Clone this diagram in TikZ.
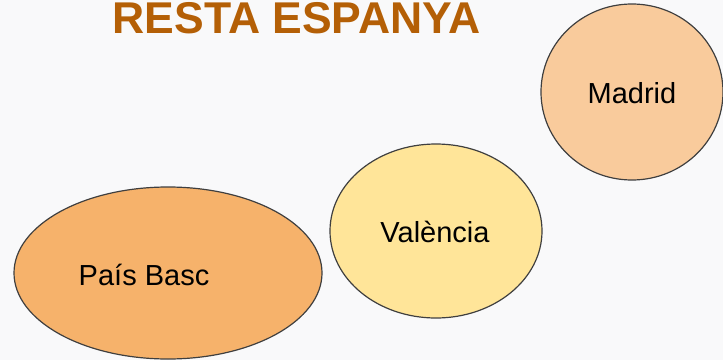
\documentclass[tikz,border=0pt]{standalone}
\usepackage{fontspec}
\setmainfont{Liberation Sans}
\usetikzlibrary{shapes.geometric}
\definecolor{bg}{HTML}{F9F9FA}
\definecolor{titlec}{HTML}{B45F06}
\definecolor{edge}{HTML}{3F3F3F}
\definecolor{madridc}{HTML}{F9CB9C}
\definecolor{valc}{HTML}{FFE599}
\definecolor{basc}{HTML}{F6B26B}
\tikzset{
  region/.style={ellipse, draw=edge, line width=1.2pt, inner sep=0pt, outer sep=0pt},
  lbl/.style={anchor=base, inner sep=0pt, font=\fontsize{29}{34}\selectfont, text=black},
  ttl/.style={anchor=base, inner sep=0pt, font=\fontsize{44.5}{50}\selectfont\bfseries, text=titlec}
}
\begin{document}
\begin{tikzpicture}[x=1pt,y=1pt]
\fill[bg] (0,0) rectangle (723,360);
\useasboundingbox (0,0) rectangle (723,360);
\node[ttl] (title) at (296.5,327) {RESTA ESPANYA};
\node[region, fill=madridc, minimum width=182pt, minimum height=176pt] (madrid) at (632,268) {};
\node[region, fill=valc, minimum width=212pt, minimum height=174pt] (valencia) at (436,129) {};
\node[region, fill=basc, minimum width=308pt, minimum height=172pt] (pb) at (168,87) {};
\node[lbl] (tmadrid) at (632,257) {Madrid};
\node[lbl] (tval) at (435,118) {València};
\node[lbl] (tpb) at (144,75) {País Basc};
\end{tikzpicture}
\end{document}
